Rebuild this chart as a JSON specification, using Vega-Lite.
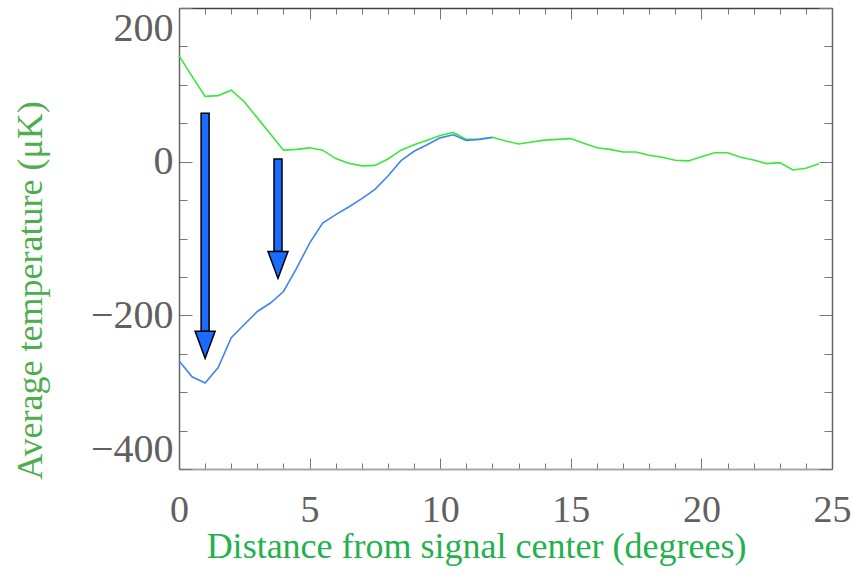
{
  "$schema": "https://vega.github.io/schema/vega-lite/v6.json",
  "autosize": {"type": "none"},
  "width": 653,
  "height": 461,
  "padding": {"left": 179, "top": 8, "right": 21, "bottom": 103},
  "background": "white",
  "config": {"view": {"stroke": null}, "axis": {"grid": false}},
  "datasets": {
    "curves": [
      {"x": 0, "t": 138, "series": "green"},
      {"x": 0.5, "t": 111, "series": "green"},
      {"x": 1.0, "t": 85, "series": "green"},
      {"x": 1.5, "t": 86, "series": "green"},
      {"x": 2.0, "t": 93, "series": "green"},
      {"x": 2.5, "t": 78, "series": "green"},
      {"x": 3.0, "t": 57, "series": "green"},
      {"x": 3.5, "t": 36, "series": "green"},
      {"x": 4.0, "t": 15, "series": "green"},
      {"x": 4.5, "t": 16, "series": "green"},
      {"x": 5.0, "t": 18, "series": "green"},
      {"x": 5.5, "t": 15, "series": "green"},
      {"x": 6.0, "t": 4, "series": "green"},
      {"x": 6.5, "t": -2, "series": "green"},
      {"x": 7.0, "t": -5.5, "series": "green"},
      {"x": 7.5, "t": -4.8, "series": "green"},
      {"x": 8.0, "t": 3.5, "series": "green"},
      {"x": 8.5, "t": 15, "series": "green"},
      {"x": 9.0, "t": 22, "series": "green"},
      {"x": 9.5, "t": 28, "series": "green"},
      {"x": 10.0, "t": 34, "series": "green"},
      {"x": 10.5, "t": 38, "series": "green"},
      {"x": 11.0, "t": 29, "series": "green"},
      {"x": 11.5, "t": 29.5, "series": "green"},
      {"x": 12.0, "t": 31.7, "series": "green"},
      {"x": 12.5, "t": 27, "series": "green"},
      {"x": 13.0, "t": 23, "series": "green"},
      {"x": 13.5, "t": 25.6, "series": "green"},
      {"x": 14.0, "t": 28, "series": "green"},
      {"x": 14.5, "t": 29, "series": "green"},
      {"x": 15.0, "t": 30, "series": "green"},
      {"x": 15.5, "t": 24, "series": "green"},
      {"x": 16.0, "t": 18, "series": "green"},
      {"x": 16.5, "t": 16, "series": "green"},
      {"x": 17.0, "t": 12.6, "series": "green"},
      {"x": 17.5, "t": 12.6, "series": "green"},
      {"x": 18.0, "t": 8.3, "series": "green"},
      {"x": 18.5, "t": 5.7, "series": "green"},
      {"x": 19.0, "t": 1.8, "series": "green"},
      {"x": 19.5, "t": 1, "series": "green"},
      {"x": 20.0, "t": 6.5, "series": "green"},
      {"x": 20.5, "t": 11.7, "series": "green"},
      {"x": 21.0, "t": 11.7, "series": "green"},
      {"x": 21.5, "t": 5.7, "series": "green"},
      {"x": 22.0, "t": 2.2, "series": "green"},
      {"x": 22.5, "t": -2.6, "series": "green"},
      {"x": 23.0, "t": -1.3, "series": "green"},
      {"x": 23.5, "t": -10.8, "series": "green"},
      {"x": 24.0, "t": -8.6, "series": "green"},
      {"x": 24.5, "t": -2.6, "series": "green"},
      {"x": 0, "t": -259, "series": "blue"},
      {"x": 0.5, "t": -280, "series": "blue"},
      {"x": 1.0, "t": -288, "series": "blue"},
      {"x": 1.5, "t": -268, "series": "blue"},
      {"x": 2.0, "t": -229, "series": "blue"},
      {"x": 2.5, "t": -212, "series": "blue"},
      {"x": 3.0, "t": -195, "series": "blue"},
      {"x": 3.5, "t": -184, "series": "blue"},
      {"x": 4.0, "t": -169, "series": "blue"},
      {"x": 4.5, "t": -139, "series": "blue"},
      {"x": 5.0, "t": -106, "series": "blue"},
      {"x": 5.5, "t": -80, "series": "blue"},
      {"x": 6.0, "t": -69, "series": "blue"},
      {"x": 6.5, "t": -59, "series": "blue"},
      {"x": 7.0, "t": -48, "series": "blue"},
      {"x": 7.5, "t": -36, "series": "blue"},
      {"x": 8.0, "t": -18.6, "series": "blue"},
      {"x": 8.5, "t": 1.3, "series": "blue"},
      {"x": 9.0, "t": 13.5, "series": "blue"},
      {"x": 9.5, "t": 22, "series": "blue"},
      {"x": 10.0, "t": 31, "series": "blue"},
      {"x": 10.5, "t": 35, "series": "blue"},
      {"x": 11.0, "t": 27.5, "series": "blue"},
      {"x": 11.5, "t": 29, "series": "blue"},
      {"x": 12.0, "t": 31.5, "series": "blue"}
    ],
    "arrows": [
      {"x": 1.0, "top": 63, "base": -221, "tip": -256},
      {"x": 3.79, "top": 3.5, "base": -117, "tip": -152}
    ]
  },
  "layer": [
    {
      "mark": {"type": "rule", "color": "#b4b4b4", "strokeWidth": 2},
      "encoding": {
        "y": {"datum": 0, "type": "quantitative", "scale": {"domain": [-400, 200], "nice": false, "padding": 0}, "axis": null}
      }
    },
    {
      "data": {"name": "curves"},
      "transform": [{"filter": "datum.series === 'green'"}],
      "mark": {"type": "line", "color": "#3ae83a", "strokeWidth": 1.6},
      "encoding": {
        "x": {
          "field": "x", "type": "quantitative",
          "scale": {"domain": [0, 25], "nice": false, "zero": false, "padding": 0},
          "axis": {
            "orient": "bottom",
            "values": [0,1,2,3,4,5,6,7,8,9,10,11,12,13,14,15,16,17,18,19,20,21,22,23,24,25],
            "labelExpr": "datum.value % 5 === 0 ? datum.label : ''",
            "labelFlush": false,
            "labelOverlap": false,
            "labelFont": "Liberation Serif",
            "labelFontSize": 38,
            "labelColor": "#606060",
            "labelPadding": 33,
            "tickSize": {"condition": {"test": "datum.value % 5 === 0", "value": -11}, "value": -6},
            "tickColor": "#777777",
            "tickWidth": 1,
            "domainColor": "#a8a8a8",
            "domainWidth": 2,
            "title": "Distance from signal center (degrees)",
            "titleFont": "Liberation Serif",
            "titleFontSize": 36,
            "titleFontWeight": "normal",
            "titleColor": "#22b14c",
            "titleX": 297,
            "titleY": 88,
            "titleBaseline": "alphabetic"
          }
        },
        "y": {
          "field": "t", "type": "quantitative",
          "scale": {"domain": [-400, 200], "nice": false, "padding": 0},
          "axis": {
            "orient": "left",
            "values": [-400,-350,-300,-250,-200,-150,-100,-50,0,50,100,150,200],
            "labelExpr": "datum.value % 200 === 0 ? datum.label : ''",
            "labelFlush": true,
            "labelOverlap": false,
            "labelFont": "Liberation Serif",
            "labelFontSize": 40,
            "labelColor": "#606060",
            "labelPadding": 19,
            "tickSize": {"condition": {"test": "datum.value % 200 === 0", "value": -13}, "value": -8},
            "tickColor": "#777777",
            "domainColor": "#666666",
            "domainWidth": 1.5,
            "title": "Average temperature (μK)",
            "titleFont": "Liberation Serif",
            "titleFontSize": 36,
            "titleFontWeight": "normal",
            "titleColor": "#4cae4c",
            "titleX": -149,
            "titleY": 282,
            "titleBaseline": "middle"
          }
        }
      }
    },
    {
      "data": {"name": "curves"},
      "transform": [{"filter": "datum.series === 'blue'"}],
      "mark": {"type": "line", "color": "#3d85f5", "strokeWidth": 1.6},
      "encoding": {
        "x": {
          "field": "x", "type": "quantitative",
          "axis": {
            "orient": "top",
            "values": [0,1,2,3,4,5,6,7,8,9,10,11,12,13,14,15,16,17,18,19,20,21,22,23,24,25],
            "labels": false,
            "tickSize": {"condition": {"test": "datum.value % 5 === 0", "value": -11}, "value": -6},
            "tickColor": "#777777",
            "domainColor": "#444444",
            "domainWidth": 1.5,
            "title": null
          }
        },
        "y": {
          "field": "t", "type": "quantitative",
          "axis": {
            "orient": "right",
            "values": [-400,-350,-300,-250,-200,-150,-100,-50,0,50,100,150,200],
            "labels": false,
            "tickSize": {"condition": {"test": "datum.value % 200 === 0", "value": -13}, "value": -8},
            "tickColor": "#777777",
            "domainColor": "#666666",
            "domainWidth": 1.5,
            "title": null
          }
        }
      }
    },
    {
      "data": {"name": "arrows"},
      "mark": {"type": "bar", "orient": "vertical", "size": 8, "color": "#1a6cff", "stroke": "#000000", "strokeWidth": 1.5},
      "encoding": {
        "x": {"field": "x", "type": "quantitative", "axis": null},
        "y": {"field": "top", "type": "quantitative", "axis": null},
        "y2": {"field": "base"}
      }
    },
    {
      "data": {"name": "arrows"},
      "mark": {"type": "point", "shape": "M-1,-2.7L1,-2.7L0,0Z", "size": 400, "filled": true, "fill": "#1a6cff", "fillOpacity": 1, "stroke": "#000000", "strokeWidth": 1.5, "opacity": 1},
      "encoding": {
        "x": {"field": "x", "type": "quantitative", "axis": null},
        "y": {"field": "tip", "type": "quantitative", "axis": null}
      }
    }
  ],
  "resolve": {"axis": {"x": "independent", "y": "independent"}}
}
